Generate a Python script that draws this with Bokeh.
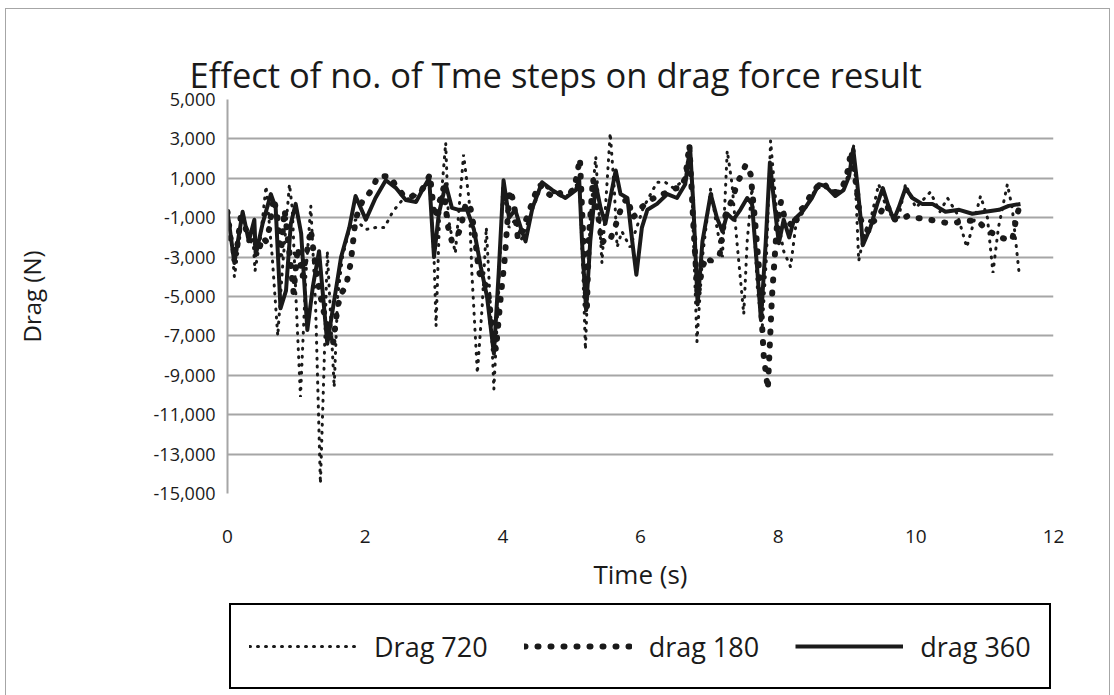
from bokeh.plotting import figure
from bokeh.layouts import column
from bokeh.models import FixedTicker, NumeralTickFormatter, Legend, LegendItem, Range1d
from bokeh.embed import file_html
from bokeh.resources import INLINE

title_text = "Effect of no. of Tme steps on drag force result"
x_label = "Time (s)"
y_label = "Drag (N)"
x_ticks = [0, 2, 4, 6, 8, 10, 12]
y_ticks = [-15000, -13000, -11000, -9000, -7000, -5000, -3000, -1000, 1000, 3000, 5000]
series_names = ["Drag 720", "drag 180", "drag 360"]

# Drag 720 (fine dotted)
t_720 = [0, 0.05, 0.1, 0.16, 0.22, 0.3, 0.36, 0.40, 0.48, 0.56,
         0.65, 0.73, 0.80, 0.90, 0.94, 1.00, 1.06, 1.14, 1.21, 1.28,
         1.35, 1.40, 1.45, 1.55, 1.60, 1.67, 1.77, 1.86, 2.01, 2.15,
         2.28, 2.40, 2.54, 2.69, 2.81, 2.93, 3.0, 3.03, 3.08, 3.17,
         3.21, 3.31, 3.43, 3.51, 3.55, 3.63, 3.70, 3.76, 3.82, 3.87,
         3.94, 4.00, 4.09, 4.18, 4.27, 4.43, 4.57, 4.77, 4.91, 5.06,
         5.12, 5.18, 5.20, 5.27, 5.35, 5.44, 5.56, 5.62, 5.66, 5.73,
         5.85, 6.04, 6.24, 6.36, 6.48, 6.63, 6.73, 6.77, 6.82, 6.90,
         7.02, 7.11, 7.19, 7.26, 7.33, 7.40, 7.50, 7.55, 7.62, 7.70,
         7.77, 7.83, 7.89, 7.98, 8.08, 8.18, 8.26, 8.40, 8.55, 8.70,
         8.85, 9.0, 9.10, 9.17, 9.25, 9.35, 9.46, 9.6, 9.75, 9.85,
         10.0, 10.21, 10.35, 10.46, 10.6, 10.74, 10.82, 10.94, 11.04, 11.12,
         11.2, 11.33, 11.4, 11.50]
v_720 = [-700, -2000, -4000, -2500, -800, -2000, -1500, -3700, -2000, 600,
         -3000, -7000, -3500, 700, -500, -5500, -10100, -3800, -400, -5500,
         -14500, -8900, -2700, -9600, -5000, -3000, -1600, -1100, -1600, -1500,
         -1500, -700, -100, 0, 400, 900, -3000, -6500, -1000, 2800,
         -1100, -2800, 2200, -100, -3800, -8900, -5500, -1500, -5500, -9700,
         -4700, 700, -1500, -1100, -2100, -600, 700, 200, 0, 700,
         300, -5500, -7700, -1000, 2100, -3300, 3300, 400, -2500, -1700,
         -2500, -500, 800, 800, 500, 900, 2700, -2200, -7300, -3000,
         500, -1500, -3000, 2400, 700, -2200, -5900, -2200, 500, -4700,
         -6500, -3000, 2900, -800, -2700, -3500, -1300, -500, 500, 600,
         200, 1000, 2700, -3200, -1800, -1000, 700, -800, -1000, 700,
         -500, 300, -700, 0, -800, -2500, -1500, 100, -1000, -3800,
         -1500, 700, -500, -3800]

# drag 180 (heavy dotted)
t_180 = [0, 0.06, 0.13, 0.19, 0.26, 0.32, 0.38, 0.45, 0.51, 0.56,
         0.61, 0.67, 0.72, 0.77, 0.83, 0.90, 0.96, 1.02, 1.09, 1.15,
         1.21, 1.28, 1.34, 1.40, 1.47, 1.53, 1.60, 1.66, 1.72, 1.79,
         1.86, 1.92, 1.98, 2.05, 2.11, 2.18, 2.24, 2.30, 2.37, 2.43,
         2.50, 2.56, 2.62, 2.69, 2.75, 2.82, 2.88, 2.94, 3.01, 3.07,
         3.14, 3.20, 3.26, 3.33, 3.39, 3.46, 3.52, 3.58, 3.65, 3.71,
         3.78, 3.84, 3.90, 3.97, 4.03, 4.10, 4.16, 4.22, 4.29, 4.35,
         4.42, 4.48, 4.54, 4.61, 4.67, 4.74, 4.80, 4.86, 4.93, 4.99,
         5.05, 5.12, 5.18, 5.22, 5.25, 5.31, 5.37, 5.44, 5.50, 5.56,
         5.63, 5.69, 5.76, 5.82, 5.88, 5.95, 6.01, 6.07, 6.14, 6.20,
         6.26, 6.33, 6.39, 6.45, 6.52, 6.58, 6.65, 6.71, 6.77, 6.83,
         6.90, 6.96, 7.02, 7.09, 7.15, 7.22, 7.28, 7.34, 7.41, 7.47,
         7.53, 7.60, 7.66, 7.72, 7.79, 7.85, 7.91, 7.98, 8.04, 8.10,
         8.17, 8.23, 8.30, 8.36, 8.42, 8.49, 8.55, 8.62, 8.68, 8.74,
         8.80, 8.87, 8.93, 9.00, 9.06, 9.12, 9.19, 9.25, 9.32, 9.38,
         9.45, 9.51, 9.57, 9.64, 9.70, 9.76, 9.83, 9.89, 9.95, 10.14,
         10.33, 10.52, 10.72, 10.89, 11.03, 11.21, 11.40, 11.46, 11.50]
v_180 = [-700, -2500, -2800, -1000, -1500, -2200, -2000, -2700, -2000, -2200,
         -1500, 0, -800, -3000, -600, -2800, -4800, -2500, -4000, -2800,
         -1600, -3500, -4800, -5800, -6800, -7500, -5500, -4800, -4500, -3300,
         -1100, -500, 0, 200, 500, 1100, 1100, 1100, 1100, 700,
         400, 100, 0, 100, 300, 400, 700, 1200, -1000, -300,
         500, -1400, -2200, -2000, -1500, -300, -300, -1500, -3700, -4300,
         -4500, -6500, -7700, -5000, -3000, 400, -200, -2100, -1500, -1000,
         -300, 300, 700, 300, 200, 0, 200, 300, 200, 300,
         700, 2000, -3000, -5800, -2000, 1000, -500, -2300, -2000, -2100,
         -1500, -800, -200, 0, -1000, -800, -500, -300, -100, 0,
         200, 200, 300, 400, 500, 500, 1000, 2700, -1500, -5000,
         -3500, -3000, -3200, -3000, -2900, -1000, -500, 0, 800, 1200,
         1700, 1200, -1000, -3500, -8000, -9700, -5000, -1500, -200, -1100,
         -1300, -1500, -700, -500, -200, 300, 500, 800, 700, 300,
         300, 300, 500, 1200, 2400, 1000, -1000, -1500, -1700, -1200,
         -1000, -600, -300, -800, -1100, -1100, -1000, -900, -1000, -1050,
         -1200, -1300, -1150, -1150, -1600, -2000, -2150, -1000, -500]

# drag 360 (solid)
t_360 = [0, 0.1, 0.22, 0.31, 0.39, 0.41, 0.51, 0.63, 0.70, 0.77,
         0.85, 0.92, 0.99, 1.07, 1.16, 1.24, 1.33, 1.45, 1.55, 1.65,
         1.77, 1.86, 2.01, 2.15, 2.30, 2.45, 2.59, 2.74, 2.83, 2.93,
         3.0, 3.07, 3.17, 3.26, 3.36, 3.48, 3.58, 3.68, 3.77, 3.87,
         3.94, 4.01, 4.09, 4.18, 4.26, 4.33, 4.43, 4.57, 4.72, 4.91,
         5.06, 5.11, 5.15, 5.21, 5.27, 5.35, 5.42, 5.49, 5.64, 5.71,
         5.81, 5.88, 5.94, 6.02, 6.10, 6.24, 6.39, 6.53, 6.65, 6.72,
         6.77, 6.83, 6.90, 7.02, 7.11, 7.19, 7.26, 7.35, 7.45, 7.55,
         7.62, 7.70, 7.75, 7.82, 7.88, 7.95, 8.01, 8.08, 8.16, 8.23,
         8.35, 8.49, 8.59, 8.69, 8.83, 8.95, 9.03, 9.09, 9.15, 9.20,
         9.23, 9.34, 9.44, 9.52, 9.61, 9.68, 9.75, 9.85, 9.95, 10.09,
         10.24, 10.43, 10.63, 10.82, 11.01, 11.21, 11.35, 11.52]
v_360 = [-700, -3300, -700, -2200, -1100, -2900, -1300, 200, -500, -5600,
         -4700, -1300, -300, -1800, -6700, -4500, -2700, -7400, -5200, -3000,
         -1500, 100, -1100, 0, 900, 500, -100, -200, 400, 1000,
         -3000, -800, 700, -500, -600, -600, -1600, -3500, -5000, -7900,
         -3800, 900, -1000, -600, -1500, -2200, -500, 800, 400, 0,
         400, 900, -2200, -5700, -2200, 700, -500, -1300, 1400, 200,
         0, -2200, -3900, -1500, -600, -300, 200, 0, 700, 2600,
         -500, -5400, -2200, 200, -1000, -1700, -800, -1100, -600, 0,
         -300, -3800, -6200, -2200, 1800, -500, -2300, -1100, -2000, -1100,
         -700, 0, 700, 600, 100, 400, 1100, 2500, 700, -1100,
         -2400, -1500, -300, 500, -500, -1100, -500, 500, 0, -300,
         -300, -700, -600, -800, -700, -600, -400, -300]

FONT = "Open Sans"
INK = "#1a1a1a"
GRID = "#a6a6a6"
STYLE_720 = dict(line_color=INK, line_width=3, line_dash="1 7", line_cap="round")
STYLE_180 = dict(line_color=INK, line_width=6, line_dash="1 12", line_cap="round")
STYLE_360 = dict(line_color=INK, line_width=4, line_join="round")

p = figure(width=1103, height=592, x_range=(0, 12), y_range=(-15000, 5000),
           output_backend="svg", toolbar_location=None,
           min_border_left=221, min_border_right=56, min_border_top=90, min_border_bottom=108)
p.outline_line_color = None
p.background_fill_color = "white"
p.border_fill_color = "white"

p.title.text = title_text
p.title.text_font = FONT
p.title.text_font_size = "34.5px"
p.title.text_font_style = "normal"
p.title.text_color = INK
p.title.align = "left"
p.title.offset = -38
p.title.standoff = 4

p.xgrid.grid_line_color = None
p.ygrid.ticker = FixedTicker(ticks=y_ticks)
p.ygrid.grid_line_color = GRID
p.ygrid.grid_line_width = 2

p.xaxis.ticker = FixedTicker(ticks=x_ticks)
p.xaxis.axis_line_color = None
p.xaxis.major_tick_line_color = None
p.xaxis.minor_tick_line_color = None
p.xaxis.major_label_standoff = 30
p.xaxis.major_label_text_font = FONT
p.xaxis.major_label_text_font_size = "19px"
p.xaxis.major_label_text_color = INK
p.xaxis.axis_label = x_label
p.xaxis.axis_label_text_font = FONT
p.xaxis.axis_label_text_font_size = "26px"
p.xaxis.axis_label_text_font_style = "normal"
p.xaxis.axis_label_text_color = INK
p.xaxis.axis_label_standoff = 10

p.yaxis.ticker = FixedTicker(ticks=y_ticks)
p.yaxis.formatter = NumeralTickFormatter(format="0,0")
p.yaxis.axis_line_color = GRID
p.yaxis.axis_line_width = 2
p.yaxis.major_tick_line_color = None
p.yaxis.minor_tick_line_color = None
p.yaxis.major_label_standoff = 6
p.yaxis.major_label_text_font = FONT
p.yaxis.major_label_text_font_size = "18px"
p.yaxis.major_label_text_color = INK
p.yaxis.axis_label = y_label
p.yaxis.axis_label_text_font = FONT
p.yaxis.axis_label_text_font_size = "24px"
p.yaxis.axis_label_text_font_style = "normal"
p.yaxis.axis_label_text_color = INK
p.yaxis.axis_label_standoff = 103

p.line(t_720, v_720, **STYLE_720)
p.line(t_180, v_180, **STYLE_180)
p.line(t_360, v_360, **STYLE_360)

# legend strip (separate figure below the chart; its lines sit outside its view)
lg = figure(width=1103, height=95, output_backend="svg", toolbar_location=None,
            min_border=0, x_range=Range1d(0, 12), y_range=Range1d(100000, 100001))
lg.axis.visible = False
lg.grid.visible = False
lg.outline_line_color = None
lg.background_fill_color = "white"
lg.border_fill_color = "white"
l720 = lg.line(t_720, v_720, **STYLE_720)
l180 = lg.line(t_180, v_180, **STYLE_180)
l360 = lg.line(t_360, v_360, **STYLE_360)

legend = Legend(items=[LegendItem(label=series_names[0], renderers=[l720]),
                       LegendItem(label=series_names[1], renderers=[l180]),
                       LegendItem(label=series_names[2], renderers=[l360])],
                orientation="horizontal", location=(2, 7))
legend.border_line_color = "#000000"
legend.border_line_alpha = 1.0
legend.border_line_width = 2.5
legend.background_fill_color = "white"
legend.background_fill_alpha = 1
legend.label_text_font = FONT
legend.label_text_font_size = "27px"
legend.label_text_color = INK
legend.glyph_width = 108
legend.glyph_height = 46
legend.label_height = 46
legend.label_standoff = 17
legend.spacing = 36
legend.padding = 18
legend.margin = 0
lg.add_layout(legend, "center")

layout = column(p, lg, spacing=0,
                styles={"margin-left": "5px", "margin-top": "8px", "border": "1px solid #a6a6a6"})

open("out.html", "w").write(file_html(layout, INLINE))
